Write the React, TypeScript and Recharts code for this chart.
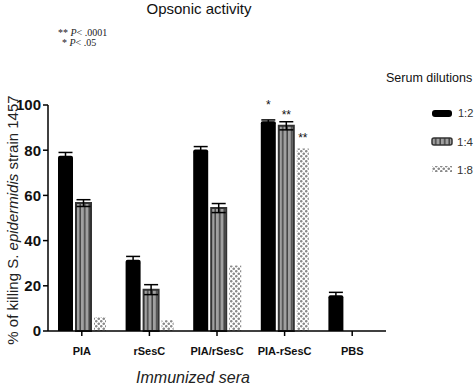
import React from 'react';
import { BarChart, Bar, XAxis, YAxis, ErrorBar, LabelList } from 'recharts';

const categories = ['PIA', 'rSesC', 'PIA/rSesC', 'PIA-rSesC', 'PBS'];
const dil12 = [77.5, 31.5, 80.3, 92.8, 15.8];
const err12 = [1.5, 1.5, 1.3, 0.6, 1.3];
const dil14 = [56.6, 18.3, 54.4, 90.8, 0];
const err14 = [1.5, 2.2, 2.0, 1.8, 0];
const dil18 = [6.2, 4.8, 29.0, 80.8, 0];
const sig12 = ['', '', '', '*', ''];
const sig14 = ['', '', '', '**', ''];
const sig18 = ['', '', '', '**', ''];
const yTicks = [0, 20, 40, 60, 80, 100];
const seriesNames = ['1:2', '1:4', '1:8'];

const data = categories.map((c, i) => ({
  name: c,
  d12: dil12[i], e12: err12[i],
  d14: dil14[i], e14: err14[i],
  d18: dil18[i],
  s12: sig12[i], s14: sig14[i], s18: sig18[i],
}));

const FONT = "Arial, 'Liberation Sans', sans-serif";

const makeSig = (offset: number) => (props: any) => {
  const { x, y, width, value } = props;
  if (!value) return null;
  return (
    <text x={x + width / 2} y={y - offset} textAnchor="middle" fontSize={12} fontFamily={FONT} fill="#111">
      {value}
    </text>
  );
};

export default function App() {
  return (
    <div style={{ position: 'absolute', left: 0, top: 0, width: 474, height: 386, background: '#fff' }}>
      <svg width={0} height={0} style={{ position: 'absolute' }}>
        <defs>
          <pattern id="stripes" patternUnits="userSpaceOnUse" width={4.5} height={10}>
            <rect x={0} y={0} width={4.5} height={10} fill="#a0a0a0" />
            <rect x={3} y={0} width={1.5} height={10} fill="#444" />
          </pattern>
          <pattern id="dots" patternUnits="userSpaceOnUse" width={5} height={5}>
            <rect x={0} y={0} width={5} height={5} fill="#fff" />
            <path d="M1.25 0 V2.5 M0 1.25 H2.5" stroke="#8a8a8a" strokeWidth={1.3} />
            <path d="M3.75 2.5 V5 M2.5 3.75 H5" stroke="#8a8a8a" strokeWidth={1.3} />
          </pattern>
        </defs>
      </svg>
      <BarChart
        width={474}
        height={386}
        data={data}
        margin={{ top: 105, right: 88, bottom: 25, left: 0 }}
        barGap={3}
        barCategoryGap={8}
      >
        <XAxis
          dataKey="name"
          height={30}
          axisLine={{ stroke: '#000', strokeWidth: 1.5 }}
          tickLine={{ stroke: '#000', strokeWidth: 1.5 }}
          tickSize={5}
          tickMargin={11}
          tick={{ fontSize: 11, fontWeight: 'bold', fill: '#111', fontFamily: FONT }}
          interval={0}
        />
        <YAxis
          width={48}
          domain={[0, 100]}
          ticks={yTicks}
          axisLine={{ stroke: '#000', strokeWidth: 1.5 }}
          tickLine={{ stroke: '#000', strokeWidth: 1.5 }}
          tickSize={5}
          tickMargin={2}
          tick={{ fontSize: 15, fontWeight: 'bold', fill: '#111', fontFamily: FONT }}
        />
        <Bar dataKey="d12" name={seriesNames[0]} fill="#000" barSize={15} isAnimationActive={false} radius={[2, 2, 0, 0]}>
          <ErrorBar dataKey="e12" width={7} stroke="#000" strokeWidth={1.5} direction="y" />
          <LabelList dataKey="s12" content={makeSig(12)} />
        </Bar>
        <Bar dataKey="d14" name={seriesNames[1]} fill="url(#stripes)" stroke="#333" strokeWidth={2} barSize={15} isAnimationActive={false}>
          <ErrorBar dataKey="e14" width={7} stroke="#000" strokeWidth={1.5} direction="y" />
          <LabelList dataKey="s14" content={makeSig(7)} />
        </Bar>
        <Bar dataKey="d18" name={seriesNames[2]} fill="url(#dots)" barSize={12} isAnimationActive={false}>
          <LabelList dataKey="s18" content={makeSig(6)} />
        </Bar>
      </BarChart>
      <svg width={474} height={386} style={{ position: 'absolute', left: 0, top: 0, pointerEvents: 'none' }}>
        <text x={199} y={14} textAnchor="middle" fontSize={15} fontFamily={FONT} fill="#111">Opsonic activity</text>
        <text x={58} y={36} fontSize={10} fontFamily="'Liberation Serif', 'Times New Roman', serif" fill="#222">
          {'** '}<tspan fontStyle="italic">P</tspan>{'< .0001'}
        </text>
        <text x={62} y={46} fontSize={10} fontFamily="'Liberation Serif', 'Times New Roman', serif" fill="#222">
          {'* '}<tspan fontStyle="italic">P</tspan>{'< .05'}
        </text>
        <text x={12} y={220} transform="rotate(-90 12 220)" textAnchor="middle" dominantBaseline="central" fontSize={15} fontFamily={FONT} fill="#222">
          {'% of killing S. '}<tspan fontStyle="italic">epidermidis</tspan>{' strain 1457'}
        </text>
        <text x={193} y={383} textAnchor="middle" fontSize={16} fontStyle="italic" fontFamily={FONT} fill="#222">Immunized sera</text>
        <text x={386} y={82} fontSize={12.5} fontFamily={FONT} fill="#111">Serum dilutions</text>
        <rect x={432} y={110} width={20} height={7} rx={3} fill="#000" />
        <text x={458} y={117} fontSize={11} fontFamily={FONT} fill="#333">{seriesNames[0]}</text>
        <rect x={432} y={138} width={20} height={7} rx={2} fill="url(#stripes)" stroke="#333" strokeWidth={1.5} />
        <text x={457} y={146} fontSize={11.5} fontFamily={FONT} fill="#333">{seriesNames[1]}</text>
        <rect x={432} y={166} width={20} height={6} fill="url(#dots)" />
        <text x={457} y={174} fontSize={11.5} fontFamily={FONT} fill="#333">{seriesNames[2]}</text>
      </svg>
    </div>
  );
}
